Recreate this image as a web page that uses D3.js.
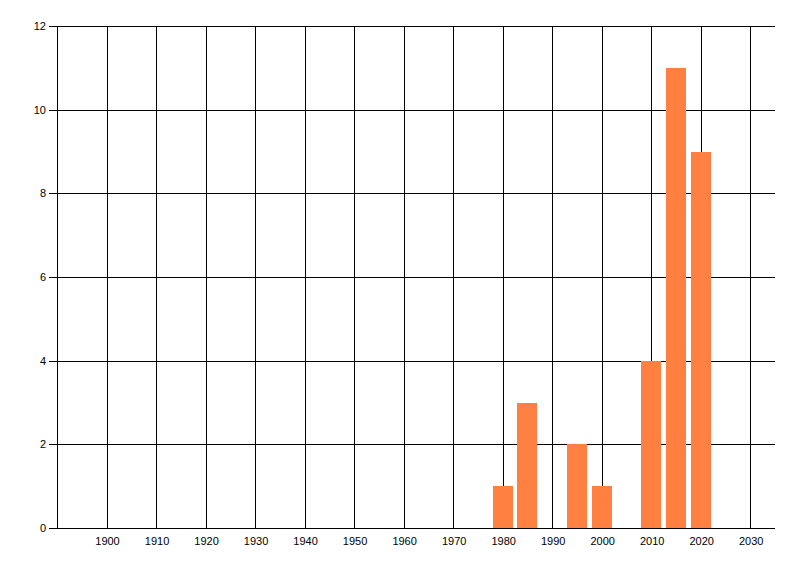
<!DOCTYPE html>
<html>
<head>
<meta charset="utf-8">
<script src="https://cdn.jsdelivr.net/npm/d3@7"></script>
<style>
  body { margin: 0; background: #fff; }
  svg text { font-family: "Liberation Sans", Arial, sans-serif; font-size: 11px; fill: #000; }
</style>
</head>
<body>
<div id="chart_area"></div>
<script>
// Data.
var years = [1980, 1985, 1995, 2000, 2010, 2015, 2020];
var counts = [1, 3, 2, 1, 4, 11, 9];
var x_ticks = [1900, 1910, 1920, 1930, 1940, 1950, 1960, 1970, 1980, 1990, 2000, 2010, 2020, 2030];
var y_ticks = [0, 2, 4, 6, 8, 10, 12];

var bars = years.map(function(y, i) { return {year: y, count: counts[i]}; });

var frame_width = 800, frame_height = 576;
var margin = {top: 26, right: 25, bottom: 48, left: 57};
var canvas_width = frame_width - margin.left - margin.right;
var canvas_height = frame_height - margin.top - margin.bottom;

var frame = d3.select("#chart_area").append("svg")
	.attr("width", frame_width)
	.attr("height", frame_height);

var canvas = frame.append("g")
	.attr("transform", "translate(" + margin.left + "," + margin.top + ")");

var xScale = d3.scaleLinear().domain([1890, 2035]).range([0, canvas_width]);
var yScale = d3.scaleLinear().domain([0, 12]).range([canvas_height, 0]);

// snap lines to pixel centres so they stay crisp
function px(v) { return Math.round(v) + 0.5; }

// grid lines
canvas.append("g").selectAll("line.vgrid")
	.data(x_ticks).enter().append("line")
	.attr("class", "vgrid")
	.attr("x1", function(d) { return px(xScale(d)); })
	.attr("x2", function(d) { return px(xScale(d)); })
	.attr("y1", 0).attr("y2", canvas_height)
	.attr("stroke", "#000").attr("stroke-width", 1);

canvas.append("g").selectAll("line.hgrid")
	.data(y_ticks).enter().append("line")
	.attr("class", "hgrid")
	.attr("x1", -8).attr("x2", canvas_width)
	.attr("y1", function(d) { return px(yScale(d)); })
	.attr("y2", function(d) { return px(yScale(d)); })
	.attr("stroke", "#000").attr("stroke-width", 1);

// left axis line
canvas.append("line")
	.attr("x1", 0.5).attr("x2", 0.5)
	.attr("y1", 0).attr("y2", canvas_height + 1)
	.attr("stroke", "#000");

// bars, 4 years wide, sitting on the baseline
var barW = Math.round(xScale(1894) - xScale(1890));
canvas.append("g").selectAll("rect")
	.data(bars).enter().append("rect")
	.attr("x", function(d) { return Math.round(xScale(d.year) - barW / 2); })
	.attr("y", function(d) { return Math.round(yScale(d.count)); })
	.attr("width", barW)
	.attr("height", function(d) { return canvas_height - Math.round(yScale(d.count)); })
	.attr("fill", "#ff8040");

// y labels
canvas.append("g").selectAll("text.ylab")
	.data(y_ticks).enter().append("text")
	.attr("class", "ylab")
	.attr("x", -11)
	.attr("y", function(d) { return yScale(d); })
	.attr("dy", "0.35em")
	.attr("text-anchor", "end")
	.text(function(d) { return d; });

// x labels
canvas.append("g").selectAll("text.xlab")
	.data(x_ticks).enter().append("text")
	.attr("class", "xlab")
	.attr("x", function(d) { return xScale(d) + 1; })
	.attr("y", canvas_height + 17)
	.attr("text-anchor", "middle")
	.text(function(d) { return d; });
</script>
</body>
</html>
